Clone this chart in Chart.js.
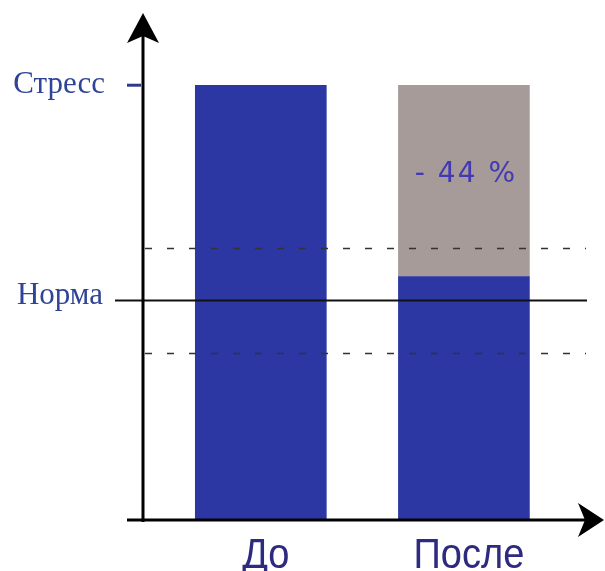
<!DOCTYPE html>
<html>
<head>
<meta charset="utf-8">
<script src="https://cdn.jsdelivr.net/npm/chart.js@4.4.1/dist/chart.umd.min.js"></script>
<style>
  html, body { margin: 0; padding: 0; background: #ffffff; }
  #wrap { width: 605px; height: 571px; }
</style>
</head>
<body>
<div id="wrap"><canvas id="c" width="605" height="571"></canvas></div>
<script>
// Stress level before and after, relative to the stress mark (100)
const categories = ['До', 'После'];
const positions = [1, 2];
const levelValues = [100, 56];
const stressLevel = 100;
const normLevel = 50.5;
const normBand = [38.5, 62.5];
const levelLabels = { stress: 'Стресс', norm: 'Норма' };

const BLUE = '#2d37a3';
const GREY = '#a69b98';

const reduction = stressLevel - levelValues[1];

const overlay = {
  id: 'overlay',
  afterDatasetsDraw(chart) {
    const { ctx, chartArea: a, scales: { x, y } } = chart;
    ctx.save();

    // normal band (dashed) and norm line
    ctx.strokeStyle = '#333333';
    ctx.lineWidth = 1.6;
    ctx.setLineDash([7, 15]);
    normBand.forEach(v => {
      const py = Math.round(y.getPixelForValue(v)) + 0.5;
      ctx.beginPath();
      ctx.moveTo(a.left + 2, py);
      ctx.lineTo(a.right - 14, py);
      ctx.stroke();
    });
    ctx.setLineDash([]);
    ctx.strokeStyle = '#111111';
    ctx.lineWidth = 2;
    const ny = y.getPixelForValue(normLevel);
    ctx.beginPath();
    ctx.moveTo(a.left - 28, ny);
    ctx.lineTo(a.right - 13, ny);
    ctx.stroke();

    // reduction label inside the grey segment
    const seg = chart.getDatasetMeta(1).data[0];
    ctx.fillStyle = '#4339b3';
    ctx.font = '28px "DejaVu Sans", sans-serif';
    ctx.textAlign = 'center';
    ctx.textBaseline = 'middle';
    ctx.letterSpacing = '2px';
    ctx.fillText('- ' + reduction + ' %', seg.x + 2, (seg.y + seg.base) / 2 - 6);
    ctx.letterSpacing = '0px';

    // axes with arrowheads
    ctx.strokeStyle = '#000000';
    ctx.fillStyle = '#000000';
    ctx.lineWidth = 3;
    const ox = a.left, oy = a.bottom;
    ctx.beginPath();
    ctx.moveTo(ox, oy + 2);
    ctx.lineTo(ox, a.top + 10);
    ctx.stroke();
    ctx.beginPath();
    ctx.moveTo(ox, a.top - 7);
    ctx.lineTo(ox - 16, a.top + 23);
    ctx.lineTo(ox, a.top + 16);
    ctx.lineTo(ox + 16, a.top + 23);
    ctx.closePath();
    ctx.fill();

    ctx.beginPath();
    ctx.moveTo(ox - 16, oy);
    ctx.lineTo(a.right - 10, oy);
    ctx.stroke();
    ctx.beginPath();
    ctx.moveTo(a.right + 4, oy);
    ctx.lineTo(a.right - 22, oy - 17);
    ctx.lineTo(a.right - 15, oy);
    ctx.lineTo(a.right - 22, oy + 17);
    ctx.closePath();
    ctx.fill();

    // stress tick
    const sy = y.getPixelForValue(stressLevel);
    ctx.strokeStyle = '#2e3a8e';
    ctx.lineWidth = 3;
    ctx.beginPath();
    ctx.moveTo(ox - 16, sy);
    ctx.lineTo(ox - 2, sy);
    ctx.stroke();

    // level names on the left
    ctx.fillStyle = '#2f4496';
    ctx.font = '31px "Liberation Serif", "Times New Roman", serif';
    ctx.textAlign = 'right';
    ctx.textBaseline = 'alphabetic';
    ctx.fillText(levelLabels.stress, ox - 38, sy + 8);
    ctx.fillText(levelLabels.norm, ox - 40, ny + 4);

    // category labels
    ctx.fillStyle = '#2d2a80';
    ctx.font = '38px "Liberation Sans", Arial, sans-serif';
    ctx.textAlign = 'center';
    categories.forEach((c, i) => {
      const px = x.getPixelForValue(positions[i]) + 5;
      ctx.save();
      ctx.translate(px, oy + 48);
      ctx.scale(1, 1.12);
      ctx.fillText(c, 0, 0);
      ctx.restore();
    });

    ctx.restore();
  }
};

new Chart(document.getElementById('c'), {
  type: 'bar',
  data: {
    datasets: [
      {
        label: 'Уровень',
        data: positions.map((p, i) => ({ x: p, y: levelValues[i] })),
        backgroundColor: BLUE,
        borderWidth: 0,
        barThickness: 131,
        grouped: false
      },
      {
        label: 'Снижение',
        data: [{ x: positions[1], y: [levelValues[1], stressLevel] }],
        backgroundColor: GREY,
        borderWidth: 0,
        barThickness: 131,
        grouped: false
      }
    ]
  },
  options: {
    responsive: false,
    animation: false,
    layout: { padding: { left: 143, right: 5, top: 20, bottom: 51 } },
    plugins: { legend: { display: false }, tooltip: { enabled: false } },
    scales: {
      x: { type: 'linear', min: 0.42, max: 2.67, offset: false, display: false },
      y: { min: 0, max: 115, display: false }
    }
  },
  plugins: [overlay]
});
</script>
</body>
</html>
